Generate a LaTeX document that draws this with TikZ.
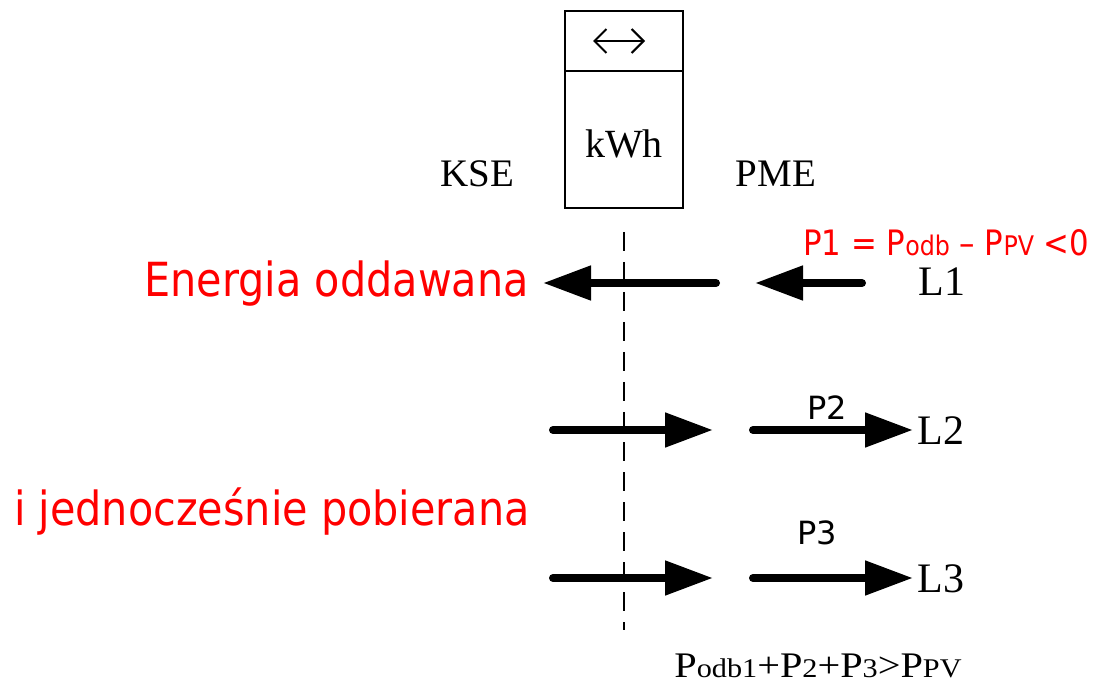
\documentclass[tikz,border=0pt]{standalone}
\usepackage{fontspec}
\usepackage{graphicx}
\setmainfont{Liberation Serif}
\newfontfamily\tah[FakeStretch=0.88]{DejaVu Sans}
\newfontfamily\dvs{DejaVu Sans}
\usetikzlibrary{arrows.meta}
\definecolor{pred}{RGB}{255,0,0}
\begin{document}
\begin{tikzpicture}[x=1pt,y=-1pt,
  meterbox/.style={draw,line width=2.5pt,minimum width=118pt,inner sep=0pt,outer sep=0pt},
  txt/.style={inner sep=0pt,anchor=base},
  serif/.style={font=\fontsize{39pt}{39pt}\selectfont},
  lbl/.style={txt,font=\fontsize{42pt}{42pt}\selectfont},
  redbig/.style={inner sep=0pt,anchor=base east,text=pred,font=\tah\fontsize{47pt}{47pt}\selectfont},
  plbl/.style={txt,font=\dvs\fontsize{32pt}{32pt}\selectfont},
  bigarrow/.style={line width=8pt,line cap=round,-{Triangle[length=48pt,width=33pt]}},
  sepline/.style={line width=2pt,dash pattern=on 19pt off 11pt}]
\useasboundingbox (0,0) rectangle (1095,684);
% meter
\node[meterbox,minimum height=60pt] (mtop) at (624,41) {};
\node[meterbox,minimum height=137pt,anchor=north] (mbot) at (mtop.south) {};
\coordinate (dl) at (593,41);
\coordinate (dr) at (645,41);
\draw[line width=2pt,{Straight Barb[length=12pt,width=24pt]}-{Straight Barb[length=12pt,width=24pt]}] (dl) -- (dr);
\node[txt,font=\fontsize{40pt}{40pt}\selectfont] (kwh) at (624,158) {kWh};
\node[txt,serif] (kse) at (477,187) {KSE};
\node[txt,serif] (pme) at (776,187) {PME};
% separator
\coordinate (s1) at (624,232);
\coordinate (s2) at (624,630);
\draw[sepline] (s1) -- (s2);
% red texts
\node[redbig] (eo) at (529,297) {Energia oddawana};
\node[redbig] (ij) at (530,525) {i jednocześnie pobierana};
\node[inner sep=0pt,anchor=base west,text=pred,font=\tah\fontsize{35pt}{35pt}\selectfont] (p1) at (803,256)
  {P1 = P{\fontsize{27pt}{27pt}\selectfont odb} – P{\fontsize{27pt}{27pt}\selectfont PV} <0};
% arrows row 1
\coordinate (a1s) at (716,283);
\coordinate (a1e) at (543,283);
\coordinate (b1s) at (862,283);
\coordinate (b1e) at (755,283);
\draw[bigarrow] (a1s) -- (a1e);
\draw[bigarrow] (b1s) -- (b1e);
\node[lbl] (l1) at (942,296) {L1};
% row 2
\coordinate (a2s) at (553,430);
\coordinate (a2e) at (713,430);
\coordinate (b2s) at (753,430);
\coordinate (b2e) at (913,430);
\draw[bigarrow] (a2s) -- (a2e);
\draw[bigarrow] (b2s) -- (b2e);
\node[lbl] (l2) at (941,444) {L2};
\node[plbl] (p2) at (827,419) {P2};
% row 3
\coordinate (a3s) at (553,578);
\coordinate (a3e) at (713,578);
\coordinate (b3s) at (753,578);
\coordinate (b3e) at (913,578);
\draw[bigarrow] (a3s) -- (a3e);
\draw[bigarrow] (b3s) -- (b3e);
\node[lbl] (l3) at (941,592) {L3};
\node[plbl] (p3) at (817,544) {P3};
% formula
\node[txt] (form) at (818,677) {\scalebox{1.12}[1]{\fontsize{36pt}{36pt}\selectfont P{\fontsize{27pt}{27pt}\selectfont odb1}+P{\fontsize{27pt}{27pt}\selectfont 2}+P{\fontsize{27pt}{27pt}\selectfont 3}>P{\fontsize{27pt}{27pt}\selectfont PV}}};
\end{tikzpicture}
\end{document}
